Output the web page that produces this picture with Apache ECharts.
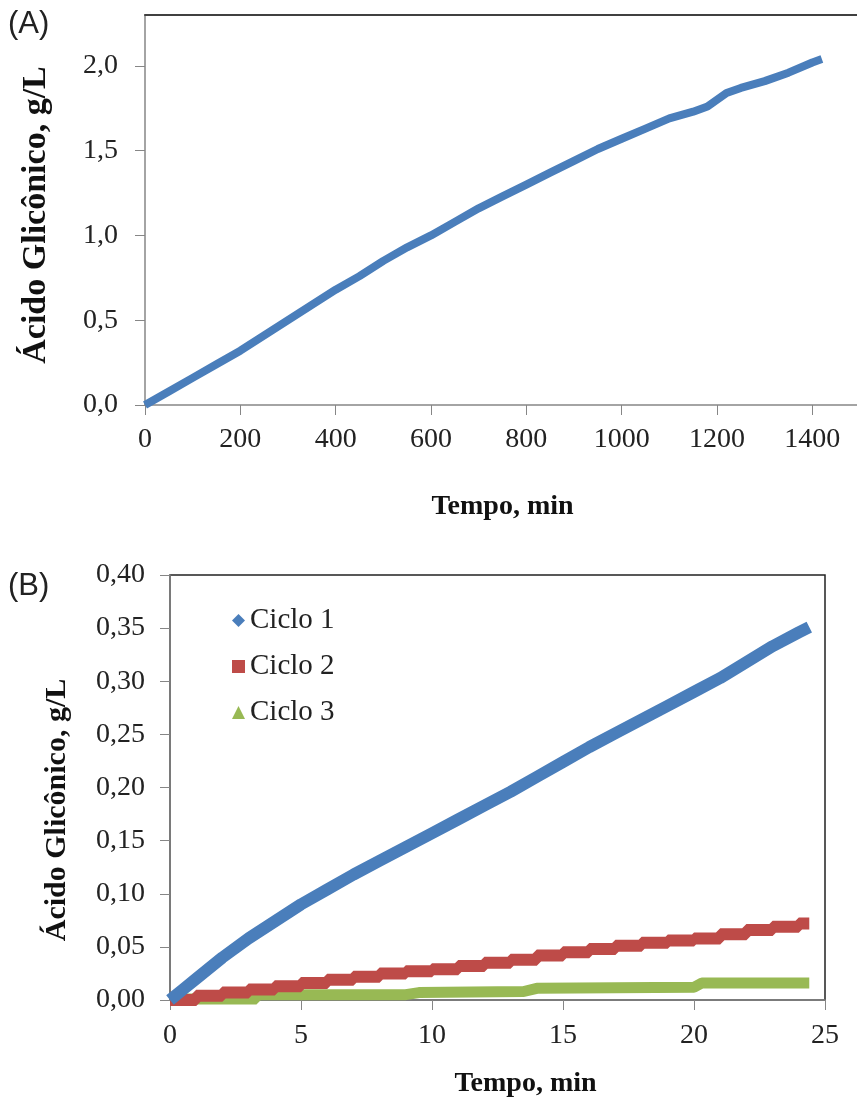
<!DOCTYPE html>
<html>
<head>
<meta charset="utf-8">
<style>
html, body { margin: 0; padding: 0; background: #fff; }
#main { width: 857px; height: 1097px; }
</style>
<script src="https://cdn.jsdelivr.net/npm/echarts@6/dist/echarts.min.js"></script>
</head>
<body>
<div id="main"></div>
<script>
// (A) tempo (min) e ácido glicônico (g/L)
var tempoA = [0, 25, 50, 100, 150, 200, 250, 300, 350, 400, 450, 500, 550, 600, 650, 700, 750, 800,
              850, 900, 950, 1000, 1050, 1100, 1150, 1180, 1200, 1220, 1250, 1300, 1350, 1400, 1420];
var acidoA = [0, 0.04, 0.08, 0.16, 0.24, 0.32, 0.41, 0.50, 0.59, 0.68, 0.76, 0.85, 0.93, 1.00, 1.08, 1.16, 1.23, 1.30,
              1.37, 1.44, 1.51, 1.57, 1.63, 1.69, 1.73, 1.76, 1.80, 1.84, 1.87, 1.91, 1.96, 2.02, 2.04];

// (B) três ciclos
var tempoB1 = [0, 0.5, 1, 2, 3, 4, 5, 6, 7, 8, 9, 10, 11, 12, 13, 14, 15, 16, 17, 18, 19, 20, 21, 22, 23, 24, 24.4];
var ciclo1 = [0, 0.010, 0.020, 0.040, 0.058, 0.074, 0.090, 0.104, 0.118, 0.131, 0.144, 0.157, 0.170, 0.183, 0.196,
              0.210, 0.224, 0.238, 0.251, 0.264, 0.277, 0.290, 0.303, 0.318, 0.333, 0.346, 0.351];
var tempoB2 = [0, 1, 2, 3, 4, 5, 6, 7, 8, 9, 10, 11, 12, 13, 14, 15, 16, 17, 18, 19, 20, 21, 22, 23, 24, 24.4];
var ciclo2 = [0.000, 0.004, 0.007, 0.010, 0.013, 0.016, 0.019, 0.022, 0.025, 0.027, 0.029, 0.032, 0.035, 0.038,
              0.042, 0.045, 0.048, 0.051, 0.054, 0.056, 0.058, 0.062, 0.066, 0.069, 0.072, 0.072];
var tempoB3 = [0, 3.3, 3.3, 9, 9.5, 13.5, 14, 20, 20.3, 24.4];
var ciclo3 = [0.001, 0.001, 0.005, 0.005, 0.007, 0.008, 0.011, 0.012, 0.016, 0.016];

var ticksAX = [0, 200, 400, 600, 800, 1000, 1200, 1400];
var ticksAY = [0, 0.5, 1.0, 1.5, 2.0];

var nomes = ['Ciclo 1', 'Ciclo 2', 'Ciclo 3'];
var cores = ['#4a7ebb', '#be4b48', '#98b954'];

function pares(xs, ys) {
    return xs.map(function (x, i) { return [x, ys[i]]; });
}
function virgula(d) {
    return function (v) { return v.toFixed(d).replace('.', ','); };
}

var serif = 'Liberation Serif';
var eixoLabel = { color: '#222', fontFamily: serif, fontSize: 28 };
var nomeEixo = { color: '#111', fontFamily: serif, fontSize: 28, fontWeight: 'bold' };

var myChart = echarts.init(document.getElementById('main'));
myChart.setOption({
    animation: false,
    backgroundColor: '#fff',
    graphic: [
        { type: 'text', left: 8, top: 9, style: { text: '(A)', font: '31px Liberation Sans', fill: '#222' } },
        { type: 'text', left: 8, top: 571, style: { text: '(B)', font: '31px Liberation Sans', fill: '#222' } },
        // títulos do eixo y
        { type: 'text', x: 36, y: 215, rotation: Math.PI / 2,
          style: { text: 'Ácido Glicônico, g/L', font: 'bold 34px Liberation Serif', fill: '#111',
                   align: 'center', verticalAlign: 'middle' } },
        { type: 'text', x: 57, y: 810, rotation: Math.PI / 2,
          style: { text: 'Ácido Glicônico, g/L', font: 'bold 30px Liberation Serif', fill: '#111',
                   align: 'center', verticalAlign: 'middle' } }
    ],
    legend: {
        data: [
            { name: 'Ciclo 1', icon: 'diamond' },
            { name: 'Ciclo 2', icon: 'rect' },
            { name: 'Ciclo 3', icon: 'triangle' }
        ],
        orient: 'vertical',
        left: 227,
        top: 601,
        itemWidth: 13,
        itemHeight: 13,
        itemGap: 17,
        textStyle: { fontFamily: serif, fontSize: 29, color: '#222' }
    },
    grid: [
        { left: 145, top: 15, width: 715, height: 390, outerBoundsMode: 'none' },
        { left: 170, top: 575, width: 655, height: 425, outerBoundsMode: 'none',
          show: true, borderColor: '#222', borderWidth: 1.5 }
    ],
    xAxis: [{
        gridIndex: 0,
        type: 'value',
        min: 0,
        max: 1500,
        interval: 100,
        name: 'Tempo, min',
        nameLocation: 'middle',
        nameGap: 88,
        nameTextStyle: nomeEixo,
        axisLine: { lineStyle: { color: '#868686', width: 1.5 } },
        axisTick: { length: 10, lineStyle: { color: '#868686' }, customValues: ticksAX },
        axisLabel: Object.assign({ margin: 21, customValues: ticksAX, formatter: function (v) { return String(v); } }, eixoLabel),
        splitLine: { show: false }
    }, {
        gridIndex: 1,
        type: 'value',
        min: 0,
        max: 25,
        interval: 5,
        name: 'Tempo, min',
        nameLocation: 'middle',
        nameGap: 70,
        nameTextStyle: Object.assign({ padding: [0, 0, 0, 56] }, nomeEixo),
        axisLine: { lineStyle: { color: '#868686', width: 1.5 } },
        axisTick: { length: 10, lineStyle: { color: '#868686' } },
        axisLabel: Object.assign({ margin: 22 }, eixoLabel),
        splitLine: { show: false }
    }, {
        // borda superior do painel (A)
        gridIndex: 0,
        type: 'value',
        position: 'top',
        min: 0,
        max: 1500,
        axisLine: { lineStyle: { color: '#404040', width: 2 } },
        axisTick: { show: false },
        axisLabel: { show: false },
        splitLine: { show: false }
    }],
    yAxis: [{
        gridIndex: 0,
        type: 'value',
        min: 0,
        max: 2.3,
        interval: 0.5,
        axisLine: { show: true, lineStyle: { color: '#868686', width: 1.5 } },
        axisTick: { show: true, length: 10, lineStyle: { color: '#868686' }, customValues: ticksAY },
        axisLabel: Object.assign({ margin: 27, formatter: virgula(1), customValues: ticksAY }, eixoLabel),
        splitLine: { show: false }
    }, {
        gridIndex: 1,
        type: 'value',
        min: 0,
        max: 0.4,
        interval: 0.05,
        axisLine: { show: true, lineStyle: { color: '#868686', width: 1.5 } },
        axisTick: { show: true, length: 10, lineStyle: { color: '#868686' } },
        axisLabel: Object.assign({ margin: 25, formatter: virgula(2) }, eixoLabel),
        splitLine: { show: false }
    }],
    series: [{
        name: 'A',
        type: 'line',
        xAxisIndex: 0,
        yAxisIndex: 0,
        data: pares(tempoA, acidoA),
        showSymbol: false,
        lineStyle: { color: cores[0], width: 8 },
        itemStyle: { color: cores[0] }
    }, {
        name: nomes[2],
        type: 'line',
        xAxisIndex: 1,
        yAxisIndex: 1,
        data: pares(tempoB3, ciclo3),
        showSymbol: false,
        lineStyle: { color: cores[2], width: 11 },
        itemStyle: { color: cores[2] }
    }, {
        name: nomes[1],
        type: 'line',
        step: 'end',
        xAxisIndex: 1,
        yAxisIndex: 1,
        data: pares(tempoB2, ciclo2),
        showSymbol: false,
        lineStyle: { color: cores[1], width: 12 },
        itemStyle: { color: cores[1] }
    }, {
        name: nomes[0],
        type: 'line',
        xAxisIndex: 1,
        yAxisIndex: 1,
        data: pares(tempoB1, ciclo1),
        showSymbol: false,
        lineStyle: { color: cores[0], width: 12 },
        itemStyle: { color: cores[0] }
    }]
});
</script>
</body>
</html>
